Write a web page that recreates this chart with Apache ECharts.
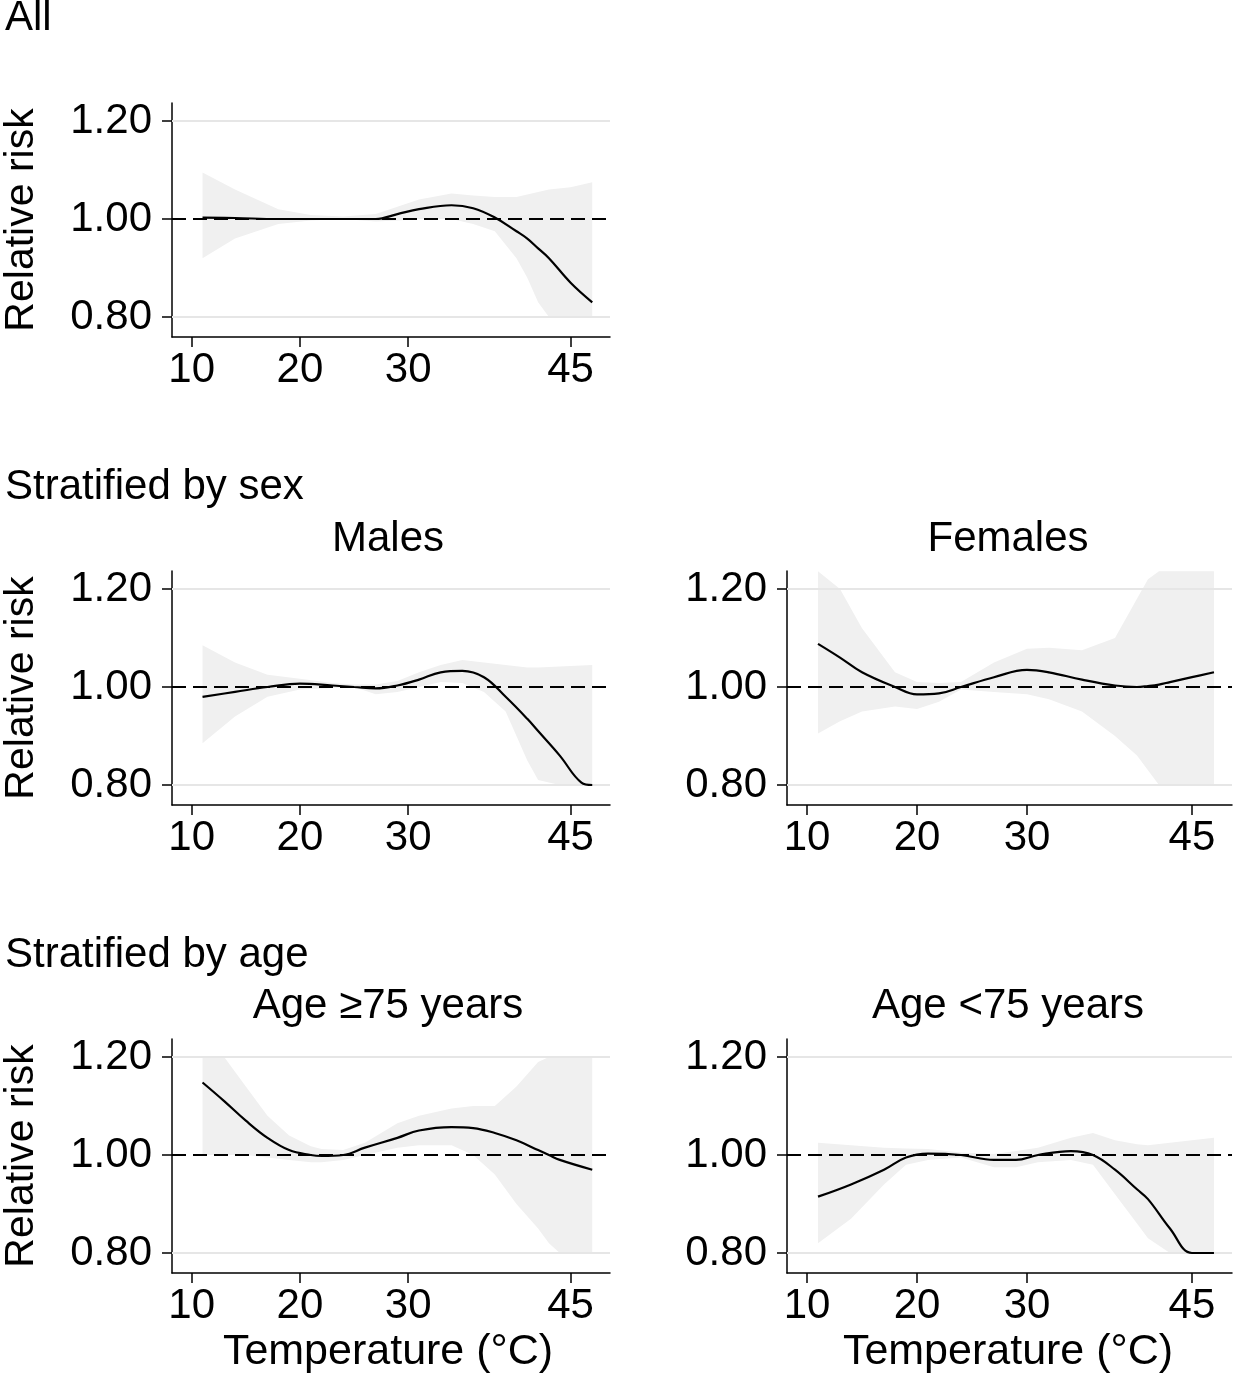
<!DOCTYPE html>
<html><head><meta charset="utf-8">
<script src="https://cdn.jsdelivr.net/npm/echarts@6/dist/echarts.min.js"></script>
<style>html,body{margin:0;background:#fff}#c{width:1234px;height:1379px}</style>
</head><body><div id="c"></div>
<script>
// temperature ticks and risk ticks
let xTicks = [10, 20, 30, 45];
let yTicks = [0.8, 1.0, 1.2];

// each panel: x positions, central estimate, lower and upper bound
let allX   = [11, 14, 18, 21, 24, 27, 29, 31, 34, 36, 38, 40, 41, 42, 43, 45, 47];
let allMid = [1.003, 1.002, 1.0, 1.0, 1.0, 1.0, 1.01, 1.02, 1.028, 1.022, 1.003, 0.975, 0.96, 0.94, 0.92, 0.87, 0.83];
let allLo  = [0.92, 0.96, 0.99, 0.997, 1.0, 0.995, 0.997, 1.0, 1.0, 0.99, 0.975, 0.92, 0.88, 0.83, 0.80, 0.80, 0.80];
let allHi  = [1.095, 1.06, 1.02, 1.008, 1.005, 1.01, 1.025, 1.04, 1.052, 1.048, 1.045, 1.045, 1.05, 1.055, 1.06, 1.065, 1.075];

let maleX   = [11, 14, 17, 20, 23, 25, 27, 29, 31, 33, 35, 37, 39, 41, 42, 44, 46, 47];
let maleMid = [0.98, 0.99, 1.0, 1.007, 1.003, 1.0, 0.997, 1.003, 1.015, 1.03, 1.033, 1.02, 0.98, 0.935, 0.91, 0.86, 0.805, 0.80];
let maleLo  = [0.885, 0.94, 0.98, 0.995, 0.998, 1.0, 0.985, 0.99, 1.0, 1.01, 1.008, 0.99, 0.95, 0.85, 0.81, 0.80, 0.80, 0.80];
let maleHi  = [1.085, 1.05, 1.025, 1.017, 1.008, 1.005, 1.005, 1.012, 1.03, 1.045, 1.055, 1.05, 1.045, 1.04, 1.04, 1.042, 1.044, 1.045];

let femX   = [11, 13, 15, 18, 20, 22, 24, 27, 30, 32, 35, 38, 40, 41, 42, 43, 45, 47];
let femMid = [1.088, 1.06, 1.03, 1.0, 0.985, 0.987, 1.0, 1.02, 1.035, 1.03, 1.015, 1.003, 1.0, 1.002, 1.005, 1.01, 1.02, 1.03];
let femLo  = [0.905, 0.93, 0.95, 0.96, 0.955, 0.97, 0.995, 0.99, 0.985, 0.975, 0.95, 0.9, 0.86, 0.83, 0.80, 0.80, 0.80, 0.80];
let femHi  = [1.236, 1.2, 1.12, 1.03, 1.01, 1.008, 1.01, 1.05, 1.078, 1.08, 1.075, 1.1, 1.18, 1.22, 1.236, 1.236, 1.236, 1.236];

let oldX   = [11, 13, 15, 17, 19, 21, 22, 24, 26, 29, 31, 34, 36, 38, 40, 42, 43, 44, 47];
let oldMid = [1.148, 1.11, 1.07, 1.035, 1.01, 1.0, 0.998, 1.0, 1.015, 1.035, 1.05, 1.057, 1.055, 1.045, 1.03, 1.01, 1.0, 0.99, 0.97];
let oldLo  = [1.0, 1.0, 1.0, 0.995, 0.99, 0.985, 0.985, 0.99, 1.0, 1.015, 1.02, 1.02, 1.0, 0.96, 0.9, 0.85, 0.82, 0.80, 0.80];
let oldHi  = [1.2, 1.2, 1.14, 1.08, 1.04, 1.018, 1.012, 1.01, 1.025, 1.065, 1.08, 1.095, 1.1, 1.1, 1.14, 1.19, 1.2, 1.2, 1.2];

let youngX   = [11, 14, 17, 19, 21, 24, 27, 29, 31, 34, 36, 38, 40, 41, 43, 45, 47];
let youngMid = [0.915, 0.94, 0.97, 0.995, 1.003, 1.0, 0.99, 0.99, 1.0, 1.008, 1.0, 0.97, 0.93, 0.91, 0.85, 0.80, 0.80];
let youngLo  = [0.82, 0.87, 0.94, 0.98, 0.99, 0.995, 0.975, 0.975, 0.985, 0.99, 0.98, 0.92, 0.86, 0.83, 0.80, 0.80, 0.80];
let youngHi  = [1.025, 1.02, 1.015, 1.013, 1.012, 1.005, 1.002, 1.008, 1.015, 1.035, 1.045, 1.03, 1.022, 1.02, 1.025, 1.03, 1.035];

let panels = [
	{x: allX, mid: allMid, lo: allLo, hi: allHi, left: 165, top: 103},
	{x: maleX, mid: maleMid, lo: maleLo, hi: maleHi, left: 165, top: 571},
	{x: femX, mid: femMid, lo: femLo, hi: femHi, left: 787, top: 571},
	{x: oldX, mid: oldMid, lo: oldLo, hi: oldHi, left: 165, top: 1039},
	{x: youngX, mid: youngMid, lo: youngLo, hi: youngHi, left: 787, top: 1039}
];

let font = 'Liberation Sans, Arial, sans-serif';
let grid = [], xAxis = [], yAxis = [], series = [];

panels.forEach((p, i) => {
	grid.push({left: p.left, top: p.top, width: 445, height: 234});
	xAxis.push({
		type: 'value', gridIndex: i, min: 8.18, max: 48.64,
		axisLine: {onZero: false, lineStyle: {color: '#000', width: 1.5}},
		axisTick: {customValues: xTicks, length: 10, lineStyle: {color: '#000', width: 1.5}},
		axisLabel: {customValues: xTicks, color: '#000', fontSize: 42, fontFamily: font, margin: 12},
		splitLine: {show: false}
	});
	yAxis.push({
		type: 'value', gridIndex: i, min: 0.7592, max: 1.2367,
		name: (p.left < 400) ? 'Relative risk' : '', nameLocation: 'middle', nameGap: 130, nameRotate: 90,
		nameTextStyle: {color: '#000', fontSize: 41, fontFamily: font},
		axisLine: {lineStyle: {color: '#000', width: 1.5}},
		axisTick: {customValues: yTicks, length: 10, lineStyle: {color: '#000', width: 1.5}},
		axisLabel: {customValues: yTicks, color: '#000', fontSize: 42, fontFamily: font, margin: 20,
			formatter: v => v.toFixed(2)},
		splitLine: {show: false}
	});
	let band = p.x.map((x, j) => [x, p.lo[j], p.hi[j]]);
	series.push({
		type: 'custom', xAxisIndex: i, yAxisIndex: i, data: [0], silent: true, z: 1,
		renderItem: (params, api) => {
			let pts = band.map(d => api.coord([d[0], d[2]]));
			band.slice().reverse().forEach(d => pts.push(api.coord([d[0], d[1]])));
			return {type: 'polygon', shape: {points: pts}, style: {fill: '#f0f0f0'}};
		}
	});
	series.push({
		type: 'line', xAxisIndex: i, yAxisIndex: i, smooth: 0.4, symbol: 'none', z: 5,
		data: p.x.map((x, j) => [x, p.mid[j]]),
		lineStyle: {color: '#000', width: 2.2},
		markLine: {
			silent: true, symbol: 'none', label: {show: false},
			data: [
				{yAxis: 1.2, lineStyle: {color: '#e6e6e6', width: 2, type: 'solid'}},
				{yAxis: 0.8, lineStyle: {color: '#e6e6e6', width: 2, type: 'solid'}},
				{yAxis: 1.0, lineStyle: {color: '#000', width: 2, type: [14, 7]}}
			]
		}
	});
});

let txt = (text, x, y, size, align) => ({type: 'text', x: x, y: y,
	style: {text: text, fill: '#000', font: size + 'px ' + font, textAlign: align, textVerticalAlign: 'middle'}});

let myEchart = echarts.init(document.getElementById('c'));
myEchart.setOption({
	animation: false,
	grid: grid, xAxis: xAxis, yAxis: yAxis, series: series,
	graphic: [
		txt('All', 5, 18, 42, 'left'),
		txt('Stratified by sex', 5, 487, 42, 'left'),
		txt('Stratified by age', 5, 955, 42, 'left'),
		txt('Males', 388, 539, 42, 'center'),
		txt('Females', 1008, 539, 42, 'center'),
		txt('Age ≥75 years', 388, 1006, 42, 'center'),
		txt('Age <75 years', 1008, 1006, 42, 'center'),
		txt('Temperature (°C)', 388, 1352, 43, 'center'),
		txt('Temperature (°C)', 1008, 1352, 43, 'center')
	]
});
</script></body></html>
